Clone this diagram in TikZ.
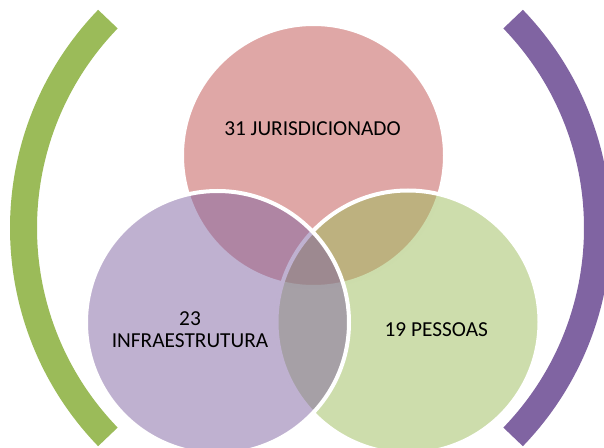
\documentclass[tikz,border=0pt]{standalone}
\usepackage{fontspec}
\setmainfont{Carlito}
\usepackage{tikz}
\usetikzlibrary{calc}
\definecolor{vennred}{HTML}{C0504D}
\definecolor{vennpurple}{HTML}{8064A2}
\definecolor{venngreen}{HTML}{9BBB59}
\tikzset{
  venn/.style={draw=white, line width=3pt, fill opacity=0.5},
  band/.style={line width=20.25pt},
  vlabel/.style={font=\fontsize{16}{16.5}\selectfont, align=center,
    inner sep=0pt, text=black}
}

\begin{document}
\begin{tikzpicture}[x=0.75pt, y=0.75pt]
  \useasboundingbox (0,0) rectangle (604,447);
  % circle centres and bracket centres
  \coordinate (cjur) at (313.5,291.5);
  \coordinate (cinf) at (217.5,124.5);
  \coordinate (cpes) at (408,125);
  \coordinate (lbow) at (324.2,219);
  \coordinate (rbow) at (296.8,219);
  % brackets
  \draw[band, venngreen] ([shift={(136:300.7)}]lbow) arc[start angle=136, end angle=224, radius=300.7];
  \draw[band, vennpurple] ([shift={(-44:300.7)}]rbow) arc[start angle=-44, end angle=44, radius=300.7];
  % circles
  \draw[venn, fill=vennred] (cjur) circle[radius=131.5];
  \draw[venn, fill=venngreen] (cpes) circle[radius=131.5];
  \draw[venn, fill=vennpurple] (cinf) circle[radius=131.5];
  % labels
  \node[vlabel] (ljur) at (312.5,318) {31 JURISDICIONADO};
  \node[vlabel] (linf) at (190,117.5) {23\\INFRAESTRUTURA};
  \node[vlabel] (lpes) at (436.3,117.5) {19 PESSOAS};
\end{tikzpicture}
\end{document}
